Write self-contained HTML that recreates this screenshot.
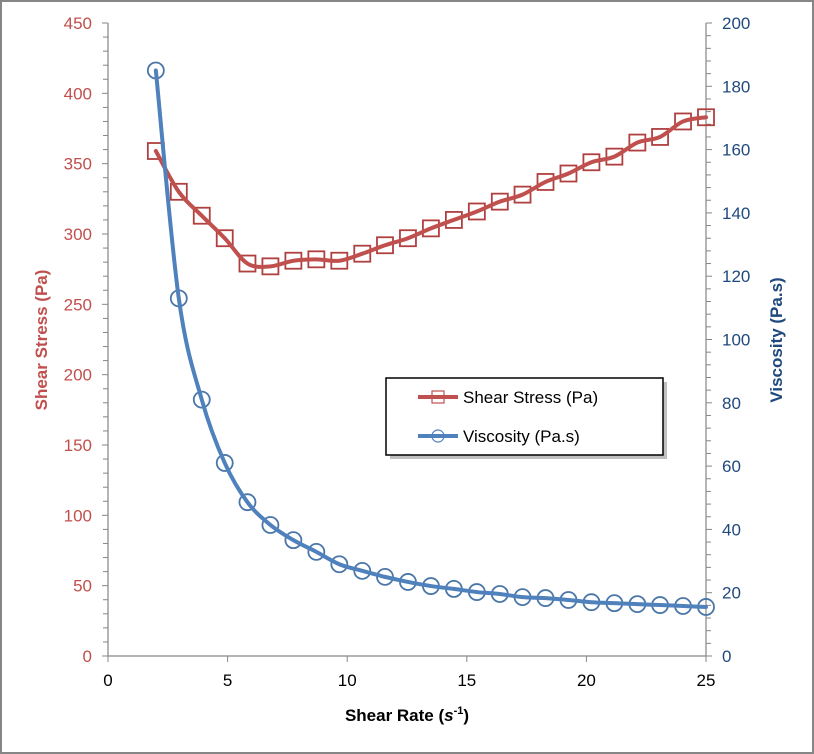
<!DOCTYPE html>
<html><head><meta charset="utf-8">
<style>
html,body{margin:0;padding:0;background:#fff;}
svg{display:block;font-family:"Liberation Sans",sans-serif;}
</style></head>
<body>
<svg id="chart" width="814" height="754" viewBox="0 0 814 754" xmlns="http://www.w3.org/2000/svg">
<rect x="1" y="1" width="812" height="752" fill="#fff" stroke="#868686" stroke-width="2"/>
<g id="axes"></g>
<g id="series"></g>
<text x="407" y="721" text-anchor="middle" font-size="17" font-weight="bold" fill="#000">Shear Rate (<tspan font-style="italic">s</tspan><tspan font-size="11" dy="-7">-1</tspan><tspan dy="7">)</tspan></text>
<text transform="translate(47,340) rotate(-90)" text-anchor="middle" font-size="17" font-weight="bold" fill="#C0504D">Shear Stress (Pa)</text>
<text transform="translate(782,340) rotate(-90)" text-anchor="middle" font-size="17" font-weight="bold" fill="#1F497D">Viscosity (Pa.s)</text>
<g>
  <rect x="390" y="382" width="277" height="77" fill="#7f7f7f" opacity="0.5"/>
  <rect x="386" y="378" width="277" height="77" fill="#fff" stroke="#000" stroke-width="1.5"/>
  <g>
    <line x1="418" y1="397" x2="458" y2="397" stroke="#C0504D" stroke-width="4"/>
    <rect x="432" y="391" width="12" height="12" fill="none" stroke="#C0504D" stroke-width="1.2"/>
    <text x="463" y="403" font-size="17" fill="#000">Shear Stress (Pa)</text>
  </g>
  <g>
    <line x1="418" y1="436" x2="458" y2="436" stroke="#4F81BD" stroke-width="4"/>
    <circle cx="438" cy="436" r="6" fill="none" stroke="#4F81BD" stroke-width="1.2"/>
    <text x="463" y="442" font-size="17" fill="#000">Viscosity (Pa.s)</text>
  </g>
</g>
</svg>
<script>
const shearRate = [2,2.96,3.92,4.88,5.83,6.79,7.75,8.71,9.67,10.63,11.58,12.54,13.5,14.46,15.42,16.38,17.33,18.29,19.25,20.21,21.17,22.13,23.08,24.04,25];
const shearStress = [359,330,313,297,279,277,281,282,281,286,292,297,304,310,316,323,328,337,343,351,355,365,369,380,383];
const viscosity = [185,113,81,61,48.6,41.4,36.6,32.9,29,26.9,25,23.4,22.1,21.2,20.2,19.6,18.6,18.3,17.7,17,16.7,16.4,16.1,15.8,15.5];
const xTicks = [0,5,10,15,20,25];
const leftTicks = [0,50,100,150,200,250,300,350,400,450];
const rightTicks = [0,20,40,60,80,100,120,140,160,180,200];

const X0=108,X1=706,Y0=656,Y1=23;
const xs=v=>X0+(v-0)/(25-0)*(X1-X0);
const yl=v=>Y0-(v/450)*(Y0-Y1);
const yr=v=>Y0-(v/200)*(Y0-Y1);
const NS='http://www.w3.org/2000/svg';
function mk(tag,attrs,parent){const e=document.createElementNS(NS,tag);for(const k in attrs)e.setAttribute(k,attrs[k]);parent.appendChild(e);return e;}
const axes=document.getElementById('axes');
const series=document.getElementById('series');

// axis lines
let a=mk('line',{x1:X0,y1:Y0,x2:X1,y2:Y0,stroke:'#868686','stroke-width':1.2},axes);


a=mk('line',{x1:X0,y1:Y0,x2:X0,y2:Y1,stroke:'#868686','stroke-width':1.2},axes);


a=mk('line',{x1:X1,y1:Y0,x2:X1,y2:Y1,stroke:'#868686','stroke-width':1.2},axes);



xTicks.forEach(t=>{
  mk('line',{x1:xs(t),y1:Y0,x2:xs(t),y2:Y0+6,stroke:'#868686'},axes);
  const tx=mk('text',{x:xs(t),y:Y0+30,'text-anchor':'middle','font-size':17,fill:'#000'},axes);
  tx.textContent=t;
  
  
});
for(let v=0;v<=450;v+=10){
  const major=v%50===0;
  mk('line',{x1:X0-(major?6:5),y1:yl(v),x2:X0,y2:yl(v),stroke:'#868686'},axes);
}
leftTicks.forEach(t=>{
  const tx=mk('text',{x:X0-16,y:yl(t)+6,'text-anchor':'end','font-size':17,fill:'#C0504D'},axes);
  tx.textContent=t;
  
  
});
for(let v=0;v<=200;v+=4){
  mk('line',{x1:X1,y1:yr(v),x2:X1+(v%20===0?6:5),y2:yr(v),stroke:'#868686'},axes);
}
rightTicks.forEach(t=>{
  const tx=mk('text',{x:X1+16,y:yr(t)+6,'text-anchor':'start','font-size':17,fill:'#1F497D'},axes);
  tx.textContent=t;
  
  
});

function smooth(pts){
  let d='M'+pts[0][0]+','+pts[0][1];
  for(let i=0;i<pts.length-1;i++){
    const p0=pts[i-1]||pts[i],p1=pts[i],p2=pts[i+1],p3=pts[i+2]||p2;
    const c1=[p1[0]+(p2[0]-p0[0])/6,p1[1]+(p2[1]-p0[1])/6];
    const c2=[p2[0]-(p3[0]-p1[0])/6,p2[1]-(p3[1]-p1[1])/6];
    d+=' C'+c1[0]+','+c1[1]+' '+c2[0]+','+c2[1]+' '+p2[0]+','+p2[1];
  }
  return d;
}
const sp=shearRate.map((x,i)=>[xs(x),yl(shearStress[i])]);
const vp=shearRate.map((x,i)=>[xs(x),yr(viscosity[i])]);

sp.forEach(p=>{
  const r=mk('rect',{x:p[0]-8,y:p[1]-8,width:16,height:16,fill:'none',stroke:'#B04040','stroke-width':1.8},series);
  
  
});
let l=mk('path',{d:smooth(sp),fill:'none',stroke:'#C0504D','stroke-width':4,'stroke-linecap':'round'},series);



vp.forEach(p=>{
  const c=mk('circle',{cx:p[0],cy:p[1],r:8,fill:'none',stroke:'#4A76A8','stroke-width':1.8},series);
  
  
});
l=mk('path',{d:smooth(vp),fill:'none',stroke:'#4F81BD','stroke-width':4,'stroke-linecap':'round'},series);


</script>
</body></html>
